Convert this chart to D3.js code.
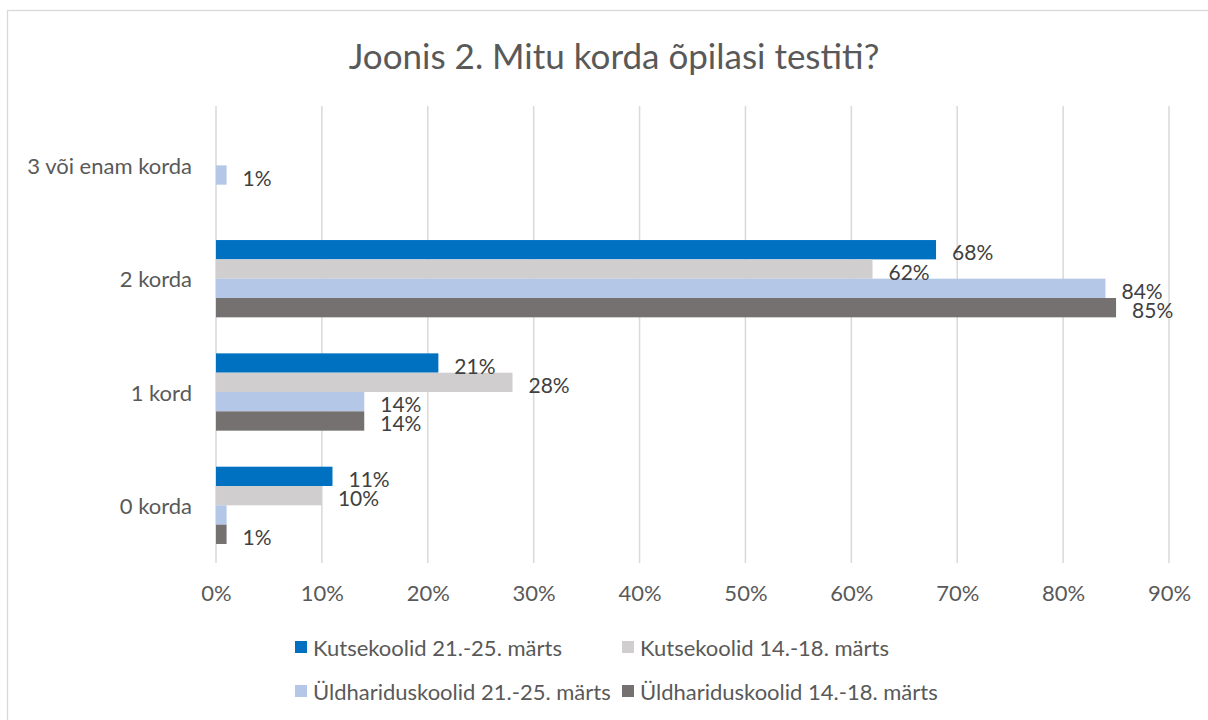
<!DOCTYPE html>
<html><head><meta charset="utf-8">
<script src="https://cdn.jsdelivr.net/npm/d3@7"></script>
<style>body{margin:0;background:#fff}svg{display:block}text{font-family:Lato,"Noto Sans",sans-serif}</style>
</head><body><div id="chart"></div>
<script>
const title = "Joonis 2. Mitu korda õpilasi testiti?";
const categories = ["3 või enam korda", "2 korda", "1 kord", "0 korda"];
const seriesNames = ["Kutsekoolid 21.-25. märts", "Kutsekoolid 14.-18. märts", "Üldhariduskoolid 21.-25. märts", "Üldhariduskoolid 14.-18. märts"];
const seriesColors = ["#0070C0", "#D0CECE", "#B4C7E7", "#767171"];
// values per series, in category order (3+, 2, 1, 0); null = no bar
const kutse2125 = [null, 68, 21, 11];
const kutse1418 = [null, 62, 28, 10];
const yld2125 = [1, 84, 14, 1];
const yld1418 = [null, 85, 14, 1];
// data labels hidden in the original (series index, category index)
const hiddenLabels = [[2, 3]];
const xTicks = [0, 10, 20, 30, 40, 50, 60, 70, 80, 90];

const series = [kutse2125, kutse1418, yld2125, yld1418];
const W = 1208, H = 720;
const svg = d3.select("#chart").append("svg").attr("width", W).attr("height", H);

svg.append("rect").attr("x", 7.5).attr("y", 10.5).attr("width", W + 20).attr("height", H + 20)
  .attr("fill", "#fff").attr("stroke", "#d9d9d9").attr("stroke-width", 1.3);

const x = d3.scaleLinear().domain([0, 90]).range([216, 1169]);
const y = d3.scaleBand().domain(categories).range([108.7, 562]).paddingInner(0.318).paddingOuter(0.159);
const ys = d3.scaleBand().domain(d3.range(series.length)).range([0, y.bandwidth()]);

svg.append("text").attr("x", 614).attr("y", 69).attr("text-anchor", "middle")
  .attr("font-size", 35).attr("fill", "#595959").text(title);

// gridlines
svg.append("g").selectAll("line").data(xTicks).join("line")
  .attr("x1", d => x(d)).attr("x2", d => x(d)).attr("y1", 106).attr("y2", 563)
  .attr("stroke", "#d9d9d9").attr("stroke-width", 1.5);

// x axis tick labels
const xAxis = d3.axisBottom(x).tickValues(xTicks).tickFormat(d => d + "%").tickSize(0).tickPadding(0);
const gx = svg.append("g").attr("transform", "translate(0,592)").call(xAxis);
gx.select(".domain").remove();
gx.selectAll("text").attr("font-size", 22).attr("fill", "#595959").attr("font-family", "Lato")
  .attr("y", 0).attr("dy", null).attr("dominant-baseline", "central");

// y axis labels
const yAxis = d3.axisLeft(y).tickSize(0).tickPadding(0);
const gy = svg.append("g").attr("transform", "translate(192,0)").call(yAxis);
gy.select(".domain").remove();
gy.selectAll("text").attr("font-size", 22).attr("fill", "#595959").attr("font-family", "Lato")
  .attr("dy", null).attr("dominant-baseline", "central");

// bars
const flat = [];
series.forEach((vals, si) => vals.forEach((v, ci) => { if (v !== null) flat.push({si, ci, v}); }));
svg.append("g").selectAll("rect").data(flat).join("rect")
  .attr("x", x(0)).attr("y", d => y(categories[d.ci]) + ys(d.si))
  .attr("width", d => x(d.v) - x(0)).attr("height", ys.bandwidth())
  .attr("fill", d => seriesColors[d.si]);

const isHidden = d => hiddenLabels.some(h => h[0] === d.si && h[1] === d.ci);
svg.append("g").selectAll("text").data(flat.filter(d => !isHidden(d))).join("text")
  .attr("x", d => x(d.v) + 16).attr("y", d => y(categories[d.ci]) + ys(d.si) + ys.bandwidth() / 2 + 2)
  .attr("dominant-baseline", "central").attr("font-size", 21).attr("fill", "#404040")
  .text(d => d.v + "%");

// legend
const legendPos = [[295, 647], [622, 647], [295, 691], [622, 691]];
const lg = svg.append("g").selectAll("g").data(seriesNames).join("g")
  .attr("transform", (d, i) => `translate(${legendPos[i][0]},${legendPos[i][1]})`);
lg.append("rect").attr("x", 0).attr("y", -6).attr("width", 12).attr("height", 12).attr("fill", (d, i) => seriesColors[i]);
lg.append("text").attr("x", 18).attr("y", 0).attr("dominant-baseline", "central")
  .attr("font-size", 22).attr("fill", "#595959").text(d => d);
</script></body></html>
